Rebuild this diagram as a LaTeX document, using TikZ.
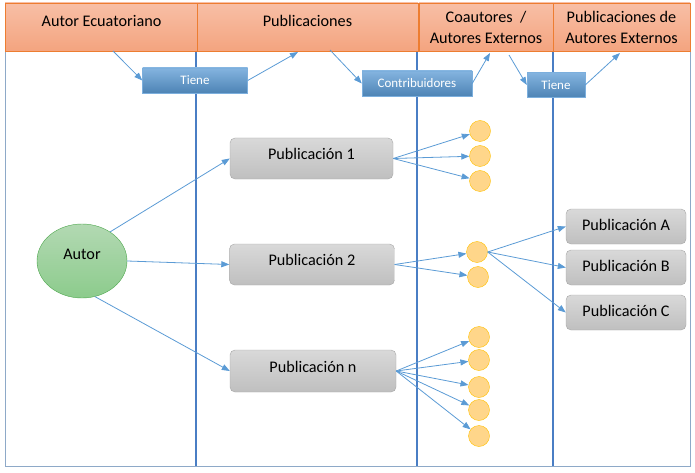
\documentclass[tikz,border=0pt]{standalone}
\usepackage{fontspec}
\setmainfont{Carlito}
\usetikzlibrary{arrows.meta,shapes.geometric}
\definecolor{hdrtop}{HTML}{F8BFA6}
\definecolor{hdrbot}{HTML}{F4A47F}
\definecolor{hdrline}{HTML}{ED7D31}
\definecolor{arrowblue}{HTML}{5B9BD5}
\definecolor{laneblue}{HTML}{4A7EC4}
\definecolor{framegray}{HTML}{8EA9C8}
\definecolor{coafill}{HTML}{FFD68A}
\definecolor{coaline}{HTML}{FFC000}
\tikzset{
  header/.style={draw=hdrline, top color=hdrtop, bottom color=hdrbot, minimum height=48pt,
    inner sep=0pt, align=center, font=\fontsize{16.2}{21}\selectfont},
  oneline/.style={text height=12pt, text depth=12.5pt},
  relbox/.style={draw=arrowblue!80!white, top color=arrowblue!75!white, bottom color=arrowblue!85!black,
    minimum height=25pt, inner sep=0pt, text=white, font=\fontsize{13}{15}\selectfont},
  pubbox/.style={draw=gray!70, rounded corners=5pt, top color=gray!30, bottom color=gray!50,
    inner sep=0pt, text height=11pt, text depth=9pt, font=\fontsize{16.2}{19}\selectfont},
  extbox/.style={pubbox, minimum width=120pt, minimum height=35pt, text height=11pt, text depth=4pt},
  coautor/.style={circle, draw=coaline, fill=coafill, minimum size=21pt, inner sep=0pt},
  link/.style={draw=arrowblue, line width=0.8pt, -{Triangle[length=8pt,width=6pt]}}
}
\begin{document}
\begin{tikzpicture}[x=1pt,y=-1pt]
\useasboundingbox (0,0) rectangle (695,473);
% frame and lanes
\draw[framegray, line width=0.8pt] (5,51) rectangle (690,466);
\foreach \x in {196,417,553}
  \draw[laneblue, line width=1.5pt] (\x,51) -- (\x,466);
% header
\node[header, oneline, minimum width=193pt] (h1) at (101.5,27) {Autor Ecuatoriano};
\node[header, oneline, minimum width=221pt] (h2) at (307.5,27) {Publicaciones};
\node[header, minimum width=134pt] (h3) at (486,27) {Coautores\ \ /\\Autores Externos};
\node[header, minimum width=137pt] (h4) at (621.5,27) {Publicaciones de\\Autores Externos};
% relations
\node[relbox, minimum width=105pt] (t1) at (195,80.5) {Tiene};
\node[relbox, minimum width=110pt] (con) at (417,83.5) {Contribuidores};
\node[relbox, minimum width=58pt] (t2) at (556,85) {Tiene};
\coordinate (c1) at (113,51);
\coordinate (c2) at (298,52);
\coordinate (c3) at (330,50);
\coordinate (c4) at (490,53);
\coordinate (c5) at (509,55);
\coordinate (c6) at (620,53);
\draw[link] (c1) -- (t1.west);
\draw[link] (t1.east) -- (c2);
\draw[link] (c3) -- (con.west);
\draw[link] (con.east) -- (c4);
\draw[link] (c5) -- (t2.west);
\draw[link] (t2.east) -- (c6);
% autor
\node[ellipse, draw=green!50!black!70!white, top color=green!50!black!30!white, bottom color=green!55!black!45!white,
  minimum width=90pt, minimum height=74pt, text height=10pt, text depth=13pt,
  font=\fontsize{16.2}{19}\selectfont] (autor) at (82,261) {Autor};
% publicaciones
\node[pubbox, minimum width=163pt, minimum height=41pt] (p1) at (311.5,158.5) {Publicación 1};
\node[pubbox, minimum width=165pt, minimum height=41pt] (p2) at (312,264.5) {Publicación 2};
\node[pubbox, minimum width=166pt, minimum height=42pt] (pn) at (313,371) {Publicación n};
\draw[link] (autor.46) -- (p1.west);
\draw[link] (autor.east) -- (p2.west);
\draw[link] (autor.290) -- (pn.west);
% coautores
\node[coautor] (k1) at (480,131) {};
\node[coautor] (k2) at (480,156) {};
\node[coautor] (k3) at (480,181) {};
\node[coautor] (k4) at (477,252) {};
\node[coautor] (k5) at (478,277) {};
\node[coautor] (k6) at (479,337) {};
\node[coautor] (k7) at (479,360) {};
\node[coautor] (k8) at (479,387) {};
\node[coautor] (k9) at (479,410) {};
\node[coautor] (k10) at (479,436) {};
\foreach \k in {k1,k2,k3}
  \draw[link] (p1.east) -- (\k);
\foreach \k in {k4,k5}
  \draw[link] (p2.east) -- (\k);
\foreach \k in {k6,k7,k8,k9,k10}
  \draw[link] (pn.east) -- (\k);
% publicaciones externas
\node[extbox] (pa) at (626,226.5) {Publicación A};
\node[extbox] (pb) at (626,267.5) {Publicación B};
\node[extbox] (pc) at (626,312.5) {Publicación C};
\foreach \q in {pa,pb,pc}
  \draw[link] (k4.east) -- (\q.west);
\end{tikzpicture}
\end{document}
